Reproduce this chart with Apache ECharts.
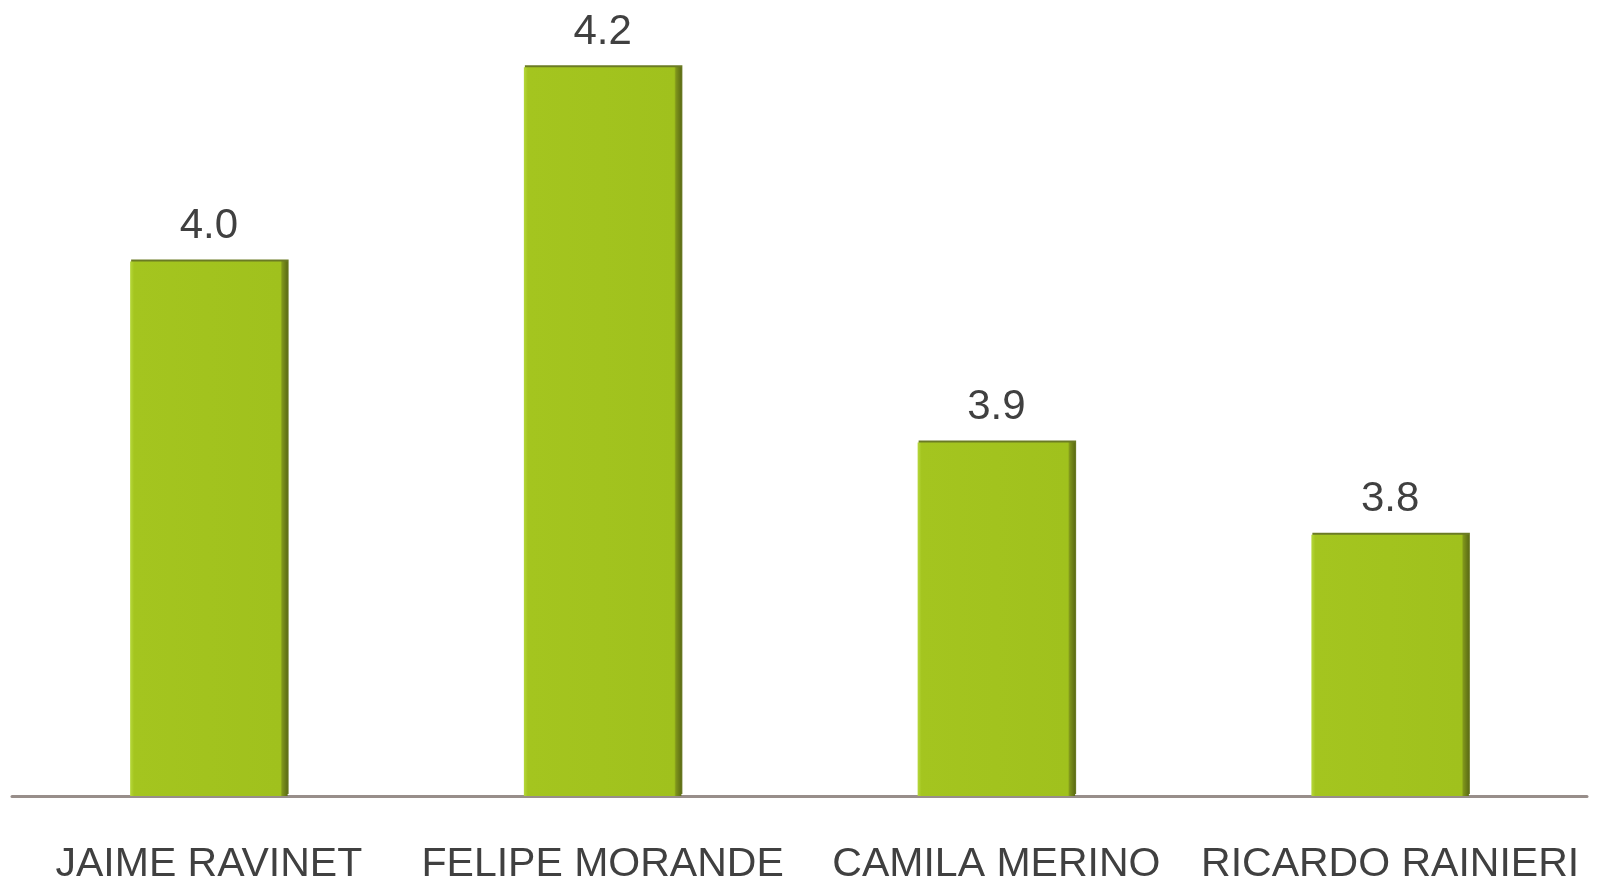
<!DOCTYPE html>
<html>
<head>
<meta charset="utf-8">
<script src="https://cdn.jsdelivr.net/npm/echarts@6/dist/echarts.min.js"></script>
<style>
  html, body { margin: 0; padding: 0; background: #fff; }
  #main { width: 1597px; height: 890px; }
</style>
</head>
<body>
<div id="main"></div>
<script>
// candidatos y notas
var categories = ['JAIME RAVINET', 'FELIPE MORANDE', 'CAMILA MERINO', 'RICARDO RAINIERI'];
var values = [4.040, 4.236, 3.857, 3.764];

var barColor = new echarts.graphic.LinearGradient(0, 0, 1, 0, [
  { offset: 0, color: '#b6d83c' },
  { offset: 0.025, color: '#a4c51f' },
  { offset: 0.955, color: '#a0c11d' },
  { offset: 0.965, color: '#7f951b' },
  { offset: 1, color: '#5c6c14' }
]);

var option = {
  animation: false,
  grid: { left: 12, right: 10, top: 4, bottom: 94 },
  xAxis: {
    type: 'category',
    data: categories,
    axisLine: { lineStyle: { color: '#988e8a', width: 3 } },
    axisTick: { show: false },
    axisLabel: {
      color: '#404040',
      fontFamily: 'Liberation Sans',
      fontSize: 41,
      margin: 48,
      interval: 0
    }
  },
  yAxis: {
    type: 'value',
    min: 3.5,
    max: 4.3,
    show: false,
    splitLine: { show: false }
  },
  series: [{
    type: 'bar',
    data: values,
    barWidth: '40%',
    itemStyle: {
      color: barColor,
      shadowColor: '#6b7b24',
      shadowOffsetX: 1,
      shadowOffsetY: -2,
      shadowBlur: 0
    },
    label: {
      show: true,
      position: 'top',
      distance: 14,
      color: '#404040',
      fontFamily: 'Liberation Sans',
      fontSize: 42,
      formatter: function (p) { return p.value.toFixed(1); }
    }
  }]
};

var myChart = echarts.init(document.getElementById('main'));
myChart.setOption(option);
</script>
</body>
</html>
